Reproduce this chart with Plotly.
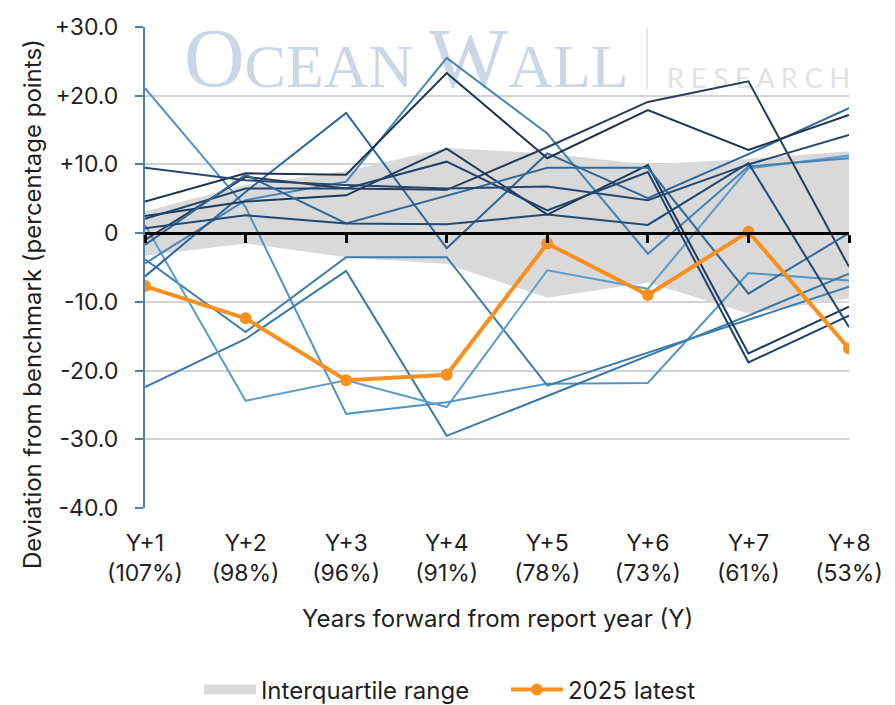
import plotly.graph_objects as go

# ---------------------------------------------------------------------------
# Data
# ---------------------------------------------------------------------------

years = [
    "Y+1<br>(107%)", "Y+2<br>(98%)", "Y+3<br>(96%)", "Y+4<br>(91%)",
    "Y+5<br>(78%)", "Y+6<br>(73%)", "Y+7<br>(61%)", "Y+8<br>(53%)",
]

y_ticks = [30, 20, 10, 0, -10, -20, -30, -40]
y_labels = ["+30.0", "+20.0", "+10.0", "0", "-10.0", "-20.0", "-30.0", "-40.0"]

iqr_high = [3.2, 7.0, 9.0, 12.4, 11.6, 10.0, 10.8, 11.9]
iqr_low = [-3.3, -1.5, -3.5, -4.5, -9.4, -7.2, -11.7, -9.5]

latest_2025 = [-7.7, -12.4, -21.4, -20.6, -1.5, -9.0, 0.2, -16.8]

# past vintages (deviation paths)
path_a = [21.1, 3.8, -26.3, -24.6, -21.9, -21.8, -5.8, -6.9]
path_p = [-22.4, -15.4, -5.5, -29.5, -23.7, -17.9, -12.0, -5.9]
path_q = [-3.8, -14.4, -3.5, -3.5, -22.2, -17.4, -12.6, -7.8]
path_t = [1.2, -24.4, -21.4, -25.3, -5.4, -8.1, 9.4, 11.3]
path_v = [-4.4, 4.8, 7.5, 25.5, 14.5, -3.0, 9.7, 10.9]
path_u = [-6.3, 6.0, 17.5, -2.2, 11.6, 5.1, 11.5, 18.2]
path_w = [4.6, 8.7, 8.5, 23.3, 10.9, 17.9, 12.1, 17.2]
path_x = [-1.0, 8.2, 6.5, 6.3, 12.5, 19.1, 22.1, -4.9]
path_f1 = [2.5, 4.6, 5.5, 12.3, 2.7, 9.9, -17.5, -10.7]
path_f2 = [2.1, 6.5, 6.5, 10.4, 3.3, 8.9, -18.8, -12.0]
path_g = [-1.7, 8.5, 1.4, 5.4, 9.5, 9.5, -8.8, 0.0]
path_l = [9.5, 7.7, 7.0, 6.5, 6.8, 4.8, 10.0, 14.3]
path_d = [0.7, 2.6, 1.4, 1.3, 2.7, 1.2, 10.2, -13.7]

FONT = "Inter"
TEXT = "#1f1f1f"
BAND = "#d9d9d9"
ORANGE = "#f7901e"

paths = [
    (path_a, "#5393c2"),
    (path_p, "#3a78a8"),
    (path_q, "#3d7cab"),
    (path_t, "#5c9dca"),
    (path_v, "#4684b4"),
    (path_u, "#2c6698"),
    (path_w, "#1e3350"),
    (path_x, "#2b3b58"),
    (path_f1, "#1b3a5e"),
    (path_f2, "#22436b"),
    (path_g, "#2f6a9a"),
    (path_l, "#244870"),
    (path_d, "#1f4a72"),
]

fig = go.Figure()

# interquartile band
fig.add_trace(go.Scatter(
    x=years, y=iqr_low, mode="lines", line=dict(width=0),
    showlegend=False, hoverinfo="skip",
))
fig.add_trace(go.Scatter(
    x=years, y=iqr_high, mode="lines", line=dict(width=0),
    fill="tonexty", fillcolor=BAND, showlegend=False, hoverinfo="skip",
))
# legend entry for the band: a thick swatch instead of plotly's thin fill icon
fig.add_trace(go.Scatter(
    x=[None], y=[None], mode="lines", name="Interquartile range",
    line=dict(color=BAND, width=15), hoverinfo="skip",
))

for values, color in paths:
    fig.add_trace(go.Scatter(
        x=years, y=values, mode="lines",
        line=dict(color=color, width=2),
        showlegend=False, hoverinfo="skip",
    ))

# latest path sits on the overlay axis (drawn on top, carries the zero line)
fig.add_trace(go.Scatter(
    x=years, y=latest_2025, mode="lines+markers", name="2025 latest",
    line=dict(color=ORANGE, width=4),
    marker=dict(color=ORANGE, size=12),
    xaxis="x2", yaxis="y",
))

# page body adds an 8px offset, so the figure is 8px smaller than the window
fig.update_layout(
    width=887, height=697,
    margin=dict(l=137, r=46, t=19, b=197, autoexpand=False),
    plot_bgcolor="white", paper_bgcolor="white",
    font=dict(family=FONT, size=23, color=TEXT),
    hovermode=False,
    xaxis=dict(
        type="category", range=[0, 7],
        showgrid=False, showline=False, zeroline=False,
        ticks="", ticklabelstandoff=19,
        tickfont=dict(size=23, color=TEXT),
    ),
    xaxis2=dict(
        type="category", range=[0, 7], overlaying="x",
        anchor="free", position=40 / 70, side="bottom",
        showgrid=False, showticklabels=False,
        showline=True, linecolor="black", linewidth=3,
        ticks="outside", ticklen=8, tickwidth=3, tickcolor="black",
    ),
    yaxis=dict(
        range=[-40, 30], tickvals=y_ticks, ticktext=y_labels,
        showgrid=True, gridcolor="#d3d3d3", gridwidth=2,
        zeroline=False,
        showline=True, linecolor="#4f80aa", linewidth=2,
        ticks="outside", ticklen=8, tickwidth=2, tickcolor="#4f80aa",
        ticklabelstandoff=12,
        tickfont=dict(size=23, color=TEXT),
    ),
    legend=dict(
        orientation="h", traceorder="normal",
        x=0.0766, xanchor="left",
        y=-0.3784, yanchor="middle",
        font=dict(size=24, color=TEXT),
        itemwidth=52, entrywidth=240, entrywidthmode="pixels",
    ),
)

# axis titles
fig.add_annotation(
    text="Deviation from benchmark (percentage points)",
    xref="paper", yref="paper", x=-0.1605, y=0.424,
    xanchor="center", yanchor="middle",
    textangle=-90, showarrow=False, font=dict(size=24),
)
fig.add_annotation(
    text="Years forward from report year (Y)",
    xref="paper", yref="paper", x=0.5, y=-0.2287,
    xanchor="center", yanchor="middle",
    showarrow=False, font=dict(size=24),
)

# watermark, kept between gridlines and traces
fig.add_shape(
    type="rect", xref="paper", yref="paper",
    x0=0.051, x1=0.69, y0=0.85, y1=0.963,
    line=dict(width=0), fillcolor="rgba(0,0,0,0)", layer="between",
    label=dict(
        text="<span style='font-size:84px'>O</span>CEAN "
             "<span style='font-size:84px'>W</span>ALL",
        textposition="middle left", padding=0,
        font=dict(family="Liberation Serif", size=62, color="#cbd7e5"),
    ),
)
fig.add_shape(
    type="rect", xref="paper", yref="paper",
    x0=0.72, x1=1.006, y0=0.861, y1=0.931,
    line=dict(width=0), fillcolor="rgba(0,0,0,0)", layer="between",
    label=dict(
        text="R E S E A R C H",
        textposition="middle right", padding=0,
        font=dict(family="Lato", size=27, color="#e2e2e2"),
    ),
)
fig.add_shape(
    type="line", xref="paper", yref="paper",
    x0=0.713, x1=0.713, y0=0.87, y1=1.0,
    line=dict(color="#dde2e8", width=1.5),
)

fig.write_html("out.html")
